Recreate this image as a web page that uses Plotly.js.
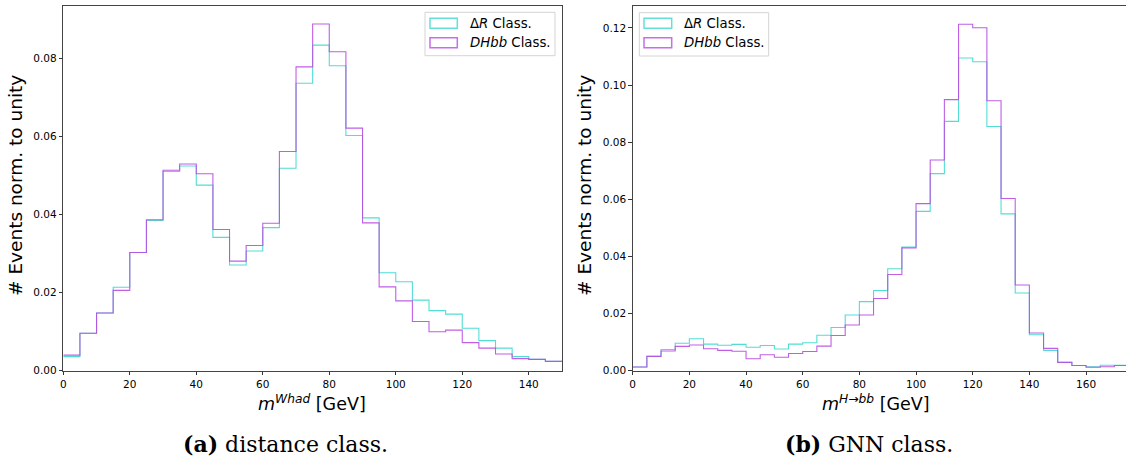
<!DOCTYPE html>
<html>
<head>
<meta charset="utf-8">
<script src="https://cdn.plot.ly/plotly-3.0.1.min.js"></script>
<style>html,body{margin:0;padding:0;background:#fff;}#chart{width:1126px;height:458px;}</style>
</head>
<body>
<div id="chart"></div>
<script>
// Left panel: m^{Whad}, bins of 5 GeV from 0 to 150
const whadEdges = [0,5,10,15,20,25,30,35,40,45,50,55,60,65,70,75,80,85,90,95,100,105,110,115,120,125,130,135,140,145,150];
const whadDeltaR = [0.0036,0.0096,0.0148,0.0214,0.0303,0.0385,0.0511,0.0525,0.0476,0.0342,0.0271,0.0307,0.0367,0.0519,0.0737,0.0835,0.0782,0.0603,0.0392,0.0251,0.0228,0.0181,0.0154,0.0145,0.0109,0.0077,0.0058,0.0036,0.0029,0.0024];
const whadDHbb   = [0.0040,0.0096,0.0148,0.0206,0.0303,0.0387,0.0514,0.0530,0.0505,0.0362,0.0281,0.0321,0.0378,0.0562,0.0779,0.0889,0.0818,0.0622,0.0379,0.0215,0.0179,0.0126,0.0100,0.0104,0.0072,0.0058,0.0043,0.0031,0.0029,0.0024];

// Right panel: m^{H->bb}, bins of 5 GeV from 0 to 175
const hbbEdges = [0,5,10,15,20,25,30,35,40,45,50,55,60,65,70,75,80,85,90,95,100,105,110,115,120,125,130,135,140,145,150,155,160,165,170,175];
const hbbDeltaR = [0.0013,0.0050,0.0074,0.0096,0.0112,0.0093,0.0089,0.0092,0.0082,0.0088,0.0076,0.0093,0.0098,0.0124,0.0151,0.0195,0.0242,0.0281,0.0357,0.0433,0.0558,0.0690,0.0873,0.1095,0.1082,0.0855,0.0549,0.0272,0.0126,0.0071,0.0029,0.0018,0.0014,0.0019,0.0019];
const hbbDHbb   = [0.0013,0.0050,0.0069,0.0085,0.0090,0.0077,0.0071,0.0068,0.0042,0.0056,0.0047,0.0060,0.0067,0.0086,0.0123,0.0160,0.0195,0.0253,0.0337,0.0430,0.0585,0.0738,0.0949,0.1213,0.1201,0.0945,0.0603,0.0300,0.0132,0.0078,0.0029,0.0018,0.0012,0.0014,0.0018];

const seriesNames = ['Δ<i>R</i> Class.', '<i>DHbb</i> Class.'];
const xTitles = ['<i>m</i><sup><i>Whad</i></sup> [GeV]', '<i>m</i><sup><i>H→bb</i></sup> [GeV]'];
const yTitle = '# Events norm. to unity';
const captions = ['<b>(a)</b> distance class.', '<b>(b)</b> GNN class.'];
const xTicksLeft = [0,20,40,60,80,100,120,140];
const xTicksRight = [0,20,40,60,80,100,120,140,160];

const CYAN = '#3fd9cf';
const MAG = '#b94ce2';

function stepY(vals){ return vals.concat([vals[vals.length-1]]); }
function stepTrace(edges, vals, color, xa, ya){
  return {type:'scatter', mode:'lines', x: edges, y: stepY(vals), xaxis: xa, yaxis: ya,
    line:{shape:'hv', color: color, width:1.1}, opacity:0.9, showlegend:false, hoverinfo:'skip'};
}

const traces = [
  stepTrace(whadEdges, whadDeltaR, CYAN, 'x', 'y'),
  stepTrace(whadEdges, whadDHbb, MAG, 'x', 'y'),
  stepTrace(hbbEdges, hbbDeltaR, CYAN, 'x2', 'y2'),
  stepTrace(hbbEdges, hbbDHbb, MAG, 'x2', 'y2')
];

const W = 1126, H = 458;
const px = v => v / W;
const py = v => 1 - v / H;

const tickFont = {family:'DejaVu Sans', size:10.5, color:'#000'};
const axisCommon = {showgrid:false, zeroline:false, showline:true, linecolor:'#444', linewidth:1,
  ticks:'outside', ticklen:3.5, tickwidth:0.8, tickcolor:'#000', tickfont: tickFont};

const shapes = [];
const annotations = [];

function legend(x0, x1, y0, y1, patchX0, patchX1, textX){
  shapes.push({type:'rect', xref:'paper', yref:'paper', x0:px(x0), x1:px(x1), y0:py(y1), y1:py(y0),
    line:{color:'#d4d4d4', width:1}, fillcolor:'rgba(255,255,255,0.85)', layer:'above'});
  const rows = [[18.3,28.3,CYAN,23.3],[37.7,47.7,MAG,42.7]];
  rows.forEach((r,i)=>{
    shapes.push({type:'rect', xref:'paper', yref:'paper', x0:px(patchX0), x1:px(patchX1), y0:py(r[1]), y1:py(r[0]),
      line:{color:r[2], width:1.5}, fillcolor:'rgba(0,0,0,0)', opacity:0.8, layer:'above'});
    annotations.push({xref:'paper', yref:'paper', x:px(textX), y:py(r[3]), xanchor:'left', yanchor:'middle',
      text: seriesNames[i], showarrow:false, font:{family:'DejaVu Sans', size:13.3, color:'#000'}});
  });
}
legend(425, 555, 12.3, 55.7, 430, 457.3, 467.7);
legend(639.3, 768.7, 12.7, 56, 644, 671.7, 681.7);

// axis titles
annotations.push({xref:'paper', yref:'paper', x:px(312), y:py(403), xanchor:'center', yanchor:'middle',
  text:xTitles[0], showarrow:false, font:{family:'DejaVu Sans', size:17.5, color:'#000'}});
annotations.push({xref:'paper', yref:'paper', x:px(876), y:py(403), xanchor:'center', yanchor:'middle',
  text:xTitles[1], showarrow:false, font:{family:'DejaVu Sans', size:17.5, color:'#000'}});
annotations.push({xref:'paper', yref:'paper', x:px(16), y:py(186), xanchor:'center', yanchor:'middle', textangle:-90,
  text:yTitle, showarrow:false, font:{family:'DejaVu Sans', size:18.5, color:'#000'}});
annotations.push({xref:'paper', yref:'paper', x:px(585), y:py(186), xanchor:'center', yanchor:'middle', textangle:-90,
  text:yTitle, showarrow:false, font:{family:'DejaVu Sans', size:18.5, color:'#000'}});
// captions
annotations.push({xref:'paper', yref:'paper', x:px(285), y:py(444), xanchor:'center', yanchor:'middle',
  text:captions[0], showarrow:false, font:{family:'DejaVu Serif', size:22, color:'#000'}});
annotations.push({xref:'paper', yref:'paper', x:px(868.5), y:py(444), xanchor:'center', yanchor:'middle',
  text:captions[1], showarrow:false, font:{family:'DejaVu Serif', size:22, color:'#000'}});

const yDom = [py(370.7), py(5.7)];
const layout = {
  width:W, height:H, margin:{l:0,r:0,t:0,b:0}, paper_bgcolor:'#fff', plot_bgcolor:'#fff',
  showlegend:false,
  xaxis: Object.assign({}, axisCommon, {domain:[px(63.3), px(562)], range:[0,150], tickvals:xTicksLeft, mirror:true, anchor:'y'}),
  yaxis: Object.assign({}, axisCommon, {domain:yDom, range:[0,0.0936], dtick:0.02, tick0:0, tickformat:'.2f', mirror:true, anchor:'x'}),
  xaxis2: Object.assign({}, axisCommon, {domain:[px(632.7), 1], range:[0,174.1], tickvals:xTicksRight, mirror:true, anchor:'y2'}),
  yaxis2: Object.assign({}, axisCommon, {domain:yDom, range:[0,0.1278], dtick:0.02, tick0:0, tickformat:'.2f', anchor:'x2'}),
  shapes: shapes, annotations: annotations
};

Plotly.newPlot('chart', traces, layout, {staticPlot:true, displayModeBar:false});
</script>
</body>
</html>
